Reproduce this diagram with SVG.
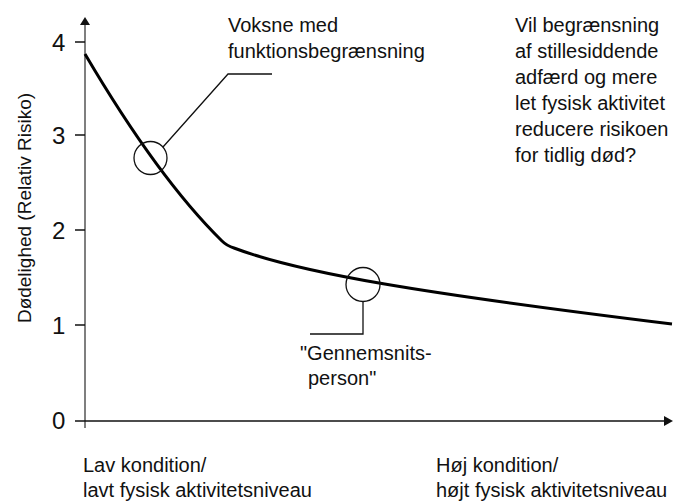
<svg xmlns="http://www.w3.org/2000/svg" width="677" height="501" viewBox="0 0 677 501">
<style>
text{font-family:"Liberation Sans",Arial,sans-serif;fill:#111;font-size:20px}
.tick{font-size:24px}
.axis{stroke:#111;stroke-width:1.5;fill:none}
.yaxis{stroke:#555;stroke-width:1.5;fill:none}
.lead{stroke:#111;stroke-width:1.3;fill:none}
.curve{stroke:#000;stroke-width:3;fill:none;stroke-linejoin:round}
</style>
<rect width="677" height="501" fill="#fff"/>
<g id="axes">
<line class="yaxis" x1="85" y1="24" x2="85" y2="428"/>
<polygon points="85,17 80,25 90,25" fill="#111"/>
<line class="axis" x1="75" y1="421" x2="665" y2="421"/>
<polygon points="673,421 664,416 664,426" fill="#111"/>
<line class="axis" x1="75" y1="42" x2="85" y2="42"/>
<line class="axis" x1="75" y1="135" x2="85" y2="135"/>
<line class="axis" x1="75" y1="230" x2="85" y2="230"/>
<line class="axis" x1="75" y1="325" x2="85" y2="325"/>
<text class="tick" x="52" y="51">4</text>
<text class="tick" x="52" y="144">3</text>
<text class="tick" x="52" y="239">2</text>
<text class="tick" x="52" y="334">1</text>
<text class="tick" x="52" y="429">0</text>
<text x="0" y="0" font-size="19" transform="translate(31,208) rotate(-90)" text-anchor="middle" style="font-size:19px">Dødelighed (Relativ Risiko)</text>
<text x="83" y="472">Lav kondition/</text>
<text x="83" y="497">lavt fysisk aktivitetsniveau</text>
<text x="436" y="472">Høj kondition/</text>
<text x="436" y="497">højt fysisk aktivitetsniveau</text>
</g>
<g id="curve">
<path class="curve" d="M85,54 C115,105 165,185 222,241 Q227,246 234,248 C300,273 420,293 672,324"/>
</g>
<g id="node-voksne">
<circle cx="150.5" cy="158" r="16.5" class="lead"/>
<text x="228" y="32">Voksne med</text>
<text x="228" y="58">funktionsbegrænsning</text>
</g>
<g id="node-gennemsnit">
<circle cx="363" cy="284.5" r="17" class="lead"/>
<text x="300" y="360">"Gennemsnits-</text>
<text x="308" y="385">person"</text>
</g>
<g id="node-question">
<text x="515" y="32">Vil begrænsning</text>
<text x="515" y="58">af stillesiddende</text>
<text x="515" y="84">adfærd og mere</text>
<text x="515" y="110">let fysisk aktivitet</text>
<text x="515" y="136">reducere risikoen</text>
<text x="515" y="162">for tidlig død?</text>
</g>
<g id="connectors">
<polyline class="lead" points="163,147 228,74 272,74"/>
<polyline class="lead" points="363,301.5 363,334 310,334"/>
</g>
</svg>
